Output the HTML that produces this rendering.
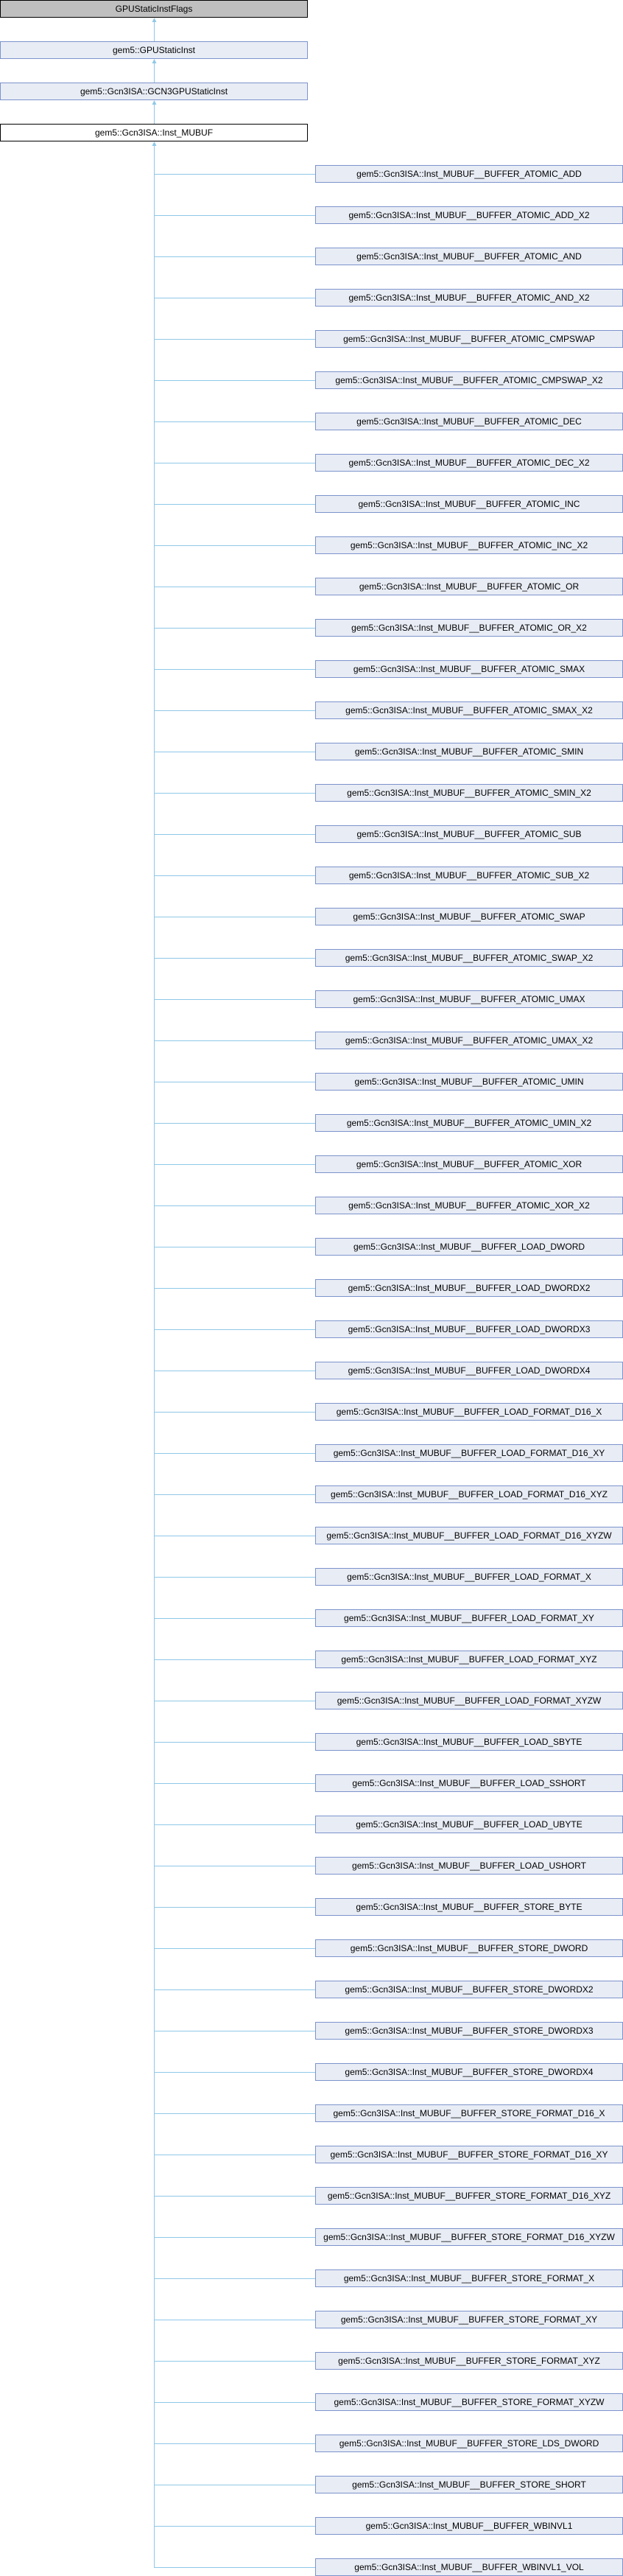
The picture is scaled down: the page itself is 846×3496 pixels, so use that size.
<!DOCTYPE html>
<html><head><meta charset="utf-8"><style>
html,body{margin:0;padding:0;background:#fff}
svg{display:block}
text{font-family:"Liberation Sans",sans-serif;font-size:12px;fill:#000;text-anchor:middle}
.n{fill:#E8ECF5;stroke:#7C93CC;stroke-width:1}
.l{stroke:#8FC8E8;stroke-width:1;fill:none}
.a{fill:#8FC8E8}
</style></head><body>
<svg width="846" height="3496" viewBox="0 0 846 3496" xmlns="http://www.w3.org/2000/svg">
<rect x="0.5" y="0.5" width="417" height="23" fill="#BFBFBF" stroke="#000"/>
<text x="209" y="16">GPUStaticInstFlags</text>
<line class="l" x1="209.5" y1="26" x2="209.5" y2="56"/>
<polygon class="a" points="209.5,24 206.5,30 212.5,30"/>
<rect class="n" x="0.5" y="56.5" width="417" height="23"/>
<text x="209" y="72">gem5::GPUStaticInst</text>
<line class="l" x1="209.5" y1="82" x2="209.5" y2="112"/>
<polygon class="a" points="209.5,80 206.5,86 212.5,86"/>
<rect class="n" x="0.5" y="112.5" width="417" height="23"/>
<text x="209" y="128">gem5::Gcn3ISA::GCN3GPUStaticInst</text>
<line class="l" x1="209.5" y1="138" x2="209.5" y2="168"/>
<polygon class="a" points="209.5,136 206.5,142 212.5,142"/>
<rect x="0.5" y="168.5" width="417" height="23" fill="#fff" stroke="#000"/>
<text x="209" y="184">gem5::Gcn3ISA::Inst_MUBUF</text>
<line class="l" x1="209.5" y1="194" x2="209.5" y2="3484.5"/>
<polygon class="a" points="209.5,192 206.5,198 212.5,198"/>
<g id="c">
<g transform="translate(0,224)"><line class="l" x1="209" y1="12.5" x2="428" y2="12.5"/><rect class="n" x="428.5" y="0.5" width="417" height="23"/><text x="637" y="16">gem5::Gcn3ISA::Inst_MUBUF__BUFFER_ATOMIC_ADD</text></g>
<g transform="translate(0,280)"><line class="l" x1="209" y1="12.5" x2="428" y2="12.5"/><rect class="n" x="428.5" y="0.5" width="417" height="23"/><text x="637" y="16">gem5::Gcn3ISA::Inst_MUBUF__BUFFER_ATOMIC_ADD_X2</text></g>
<g transform="translate(0,336)"><line class="l" x1="209" y1="12.5" x2="428" y2="12.5"/><rect class="n" x="428.5" y="0.5" width="417" height="23"/><text x="637" y="16">gem5::Gcn3ISA::Inst_MUBUF__BUFFER_ATOMIC_AND</text></g>
<g transform="translate(0,392)"><line class="l" x1="209" y1="12.5" x2="428" y2="12.5"/><rect class="n" x="428.5" y="0.5" width="417" height="23"/><text x="637" y="16">gem5::Gcn3ISA::Inst_MUBUF__BUFFER_ATOMIC_AND_X2</text></g>
<g transform="translate(0,448)"><line class="l" x1="209" y1="12.5" x2="428" y2="12.5"/><rect class="n" x="428.5" y="0.5" width="417" height="23"/><text x="637" y="16">gem5::Gcn3ISA::Inst_MUBUF__BUFFER_ATOMIC_CMPSWAP</text></g>
<g transform="translate(0,504)"><line class="l" x1="209" y1="12.5" x2="428" y2="12.5"/><rect class="n" x="428.5" y="0.5" width="417" height="23"/><text x="637" y="16">gem5::Gcn3ISA::Inst_MUBUF__BUFFER_ATOMIC_CMPSWAP_X2</text></g>
<g transform="translate(0,560)"><line class="l" x1="209" y1="12.5" x2="428" y2="12.5"/><rect class="n" x="428.5" y="0.5" width="417" height="23"/><text x="637" y="16">gem5::Gcn3ISA::Inst_MUBUF__BUFFER_ATOMIC_DEC</text></g>
<g transform="translate(0,616)"><line class="l" x1="209" y1="12.5" x2="428" y2="12.5"/><rect class="n" x="428.5" y="0.5" width="417" height="23"/><text x="637" y="16">gem5::Gcn3ISA::Inst_MUBUF__BUFFER_ATOMIC_DEC_X2</text></g>
<g transform="translate(0,672)"><line class="l" x1="209" y1="12.5" x2="428" y2="12.5"/><rect class="n" x="428.5" y="0.5" width="417" height="23"/><text x="637" y="16">gem5::Gcn3ISA::Inst_MUBUF__BUFFER_ATOMIC_INC</text></g>
<g transform="translate(0,728)"><line class="l" x1="209" y1="12.5" x2="428" y2="12.5"/><rect class="n" x="428.5" y="0.5" width="417" height="23"/><text x="637" y="16">gem5::Gcn3ISA::Inst_MUBUF__BUFFER_ATOMIC_INC_X2</text></g>
<g transform="translate(0,784)"><line class="l" x1="209" y1="12.5" x2="428" y2="12.5"/><rect class="n" x="428.5" y="0.5" width="417" height="23"/><text x="637" y="16">gem5::Gcn3ISA::Inst_MUBUF__BUFFER_ATOMIC_OR</text></g>
<g transform="translate(0,840)"><line class="l" x1="209" y1="12.5" x2="428" y2="12.5"/><rect class="n" x="428.5" y="0.5" width="417" height="23"/><text x="637" y="16">gem5::Gcn3ISA::Inst_MUBUF__BUFFER_ATOMIC_OR_X2</text></g>
<g transform="translate(0,896)"><line class="l" x1="209" y1="12.5" x2="428" y2="12.5"/><rect class="n" x="428.5" y="0.5" width="417" height="23"/><text x="637" y="16">gem5::Gcn3ISA::Inst_MUBUF__BUFFER_ATOMIC_SMAX</text></g>
<g transform="translate(0,952)"><line class="l" x1="209" y1="12.5" x2="428" y2="12.5"/><rect class="n" x="428.5" y="0.5" width="417" height="23"/><text x="637" y="16">gem5::Gcn3ISA::Inst_MUBUF__BUFFER_ATOMIC_SMAX_X2</text></g>
<g transform="translate(0,1008)"><line class="l" x1="209" y1="12.5" x2="428" y2="12.5"/><rect class="n" x="428.5" y="0.5" width="417" height="23"/><text x="637" y="16">gem5::Gcn3ISA::Inst_MUBUF__BUFFER_ATOMIC_SMIN</text></g>
<g transform="translate(0,1064)"><line class="l" x1="209" y1="12.5" x2="428" y2="12.5"/><rect class="n" x="428.5" y="0.5" width="417" height="23"/><text x="637" y="16">gem5::Gcn3ISA::Inst_MUBUF__BUFFER_ATOMIC_SMIN_X2</text></g>
<g transform="translate(0,1120)"><line class="l" x1="209" y1="12.5" x2="428" y2="12.5"/><rect class="n" x="428.5" y="0.5" width="417" height="23"/><text x="637" y="16">gem5::Gcn3ISA::Inst_MUBUF__BUFFER_ATOMIC_SUB</text></g>
<g transform="translate(0,1176)"><line class="l" x1="209" y1="12.5" x2="428" y2="12.5"/><rect class="n" x="428.5" y="0.5" width="417" height="23"/><text x="637" y="16">gem5::Gcn3ISA::Inst_MUBUF__BUFFER_ATOMIC_SUB_X2</text></g>
<g transform="translate(0,1232)"><line class="l" x1="209" y1="12.5" x2="428" y2="12.5"/><rect class="n" x="428.5" y="0.5" width="417" height="23"/><text x="637" y="16">gem5::Gcn3ISA::Inst_MUBUF__BUFFER_ATOMIC_SWAP</text></g>
<g transform="translate(0,1288)"><line class="l" x1="209" y1="12.5" x2="428" y2="12.5"/><rect class="n" x="428.5" y="0.5" width="417" height="23"/><text x="637" y="16">gem5::Gcn3ISA::Inst_MUBUF__BUFFER_ATOMIC_SWAP_X2</text></g>
<g transform="translate(0,1344)"><line class="l" x1="209" y1="12.5" x2="428" y2="12.5"/><rect class="n" x="428.5" y="0.5" width="417" height="23"/><text x="637" y="16">gem5::Gcn3ISA::Inst_MUBUF__BUFFER_ATOMIC_UMAX</text></g>
<g transform="translate(0,1400)"><line class="l" x1="209" y1="12.5" x2="428" y2="12.5"/><rect class="n" x="428.5" y="0.5" width="417" height="23"/><text x="637" y="16">gem5::Gcn3ISA::Inst_MUBUF__BUFFER_ATOMIC_UMAX_X2</text></g>
<g transform="translate(0,1456)"><line class="l" x1="209" y1="12.5" x2="428" y2="12.5"/><rect class="n" x="428.5" y="0.5" width="417" height="23"/><text x="637" y="16">gem5::Gcn3ISA::Inst_MUBUF__BUFFER_ATOMIC_UMIN</text></g>
<g transform="translate(0,1512)"><line class="l" x1="209" y1="12.5" x2="428" y2="12.5"/><rect class="n" x="428.5" y="0.5" width="417" height="23"/><text x="637" y="16">gem5::Gcn3ISA::Inst_MUBUF__BUFFER_ATOMIC_UMIN_X2</text></g>
<g transform="translate(0,1568)"><line class="l" x1="209" y1="12.5" x2="428" y2="12.5"/><rect class="n" x="428.5" y="0.5" width="417" height="23"/><text x="637" y="16">gem5::Gcn3ISA::Inst_MUBUF__BUFFER_ATOMIC_XOR</text></g>
<g transform="translate(0,1624)"><line class="l" x1="209" y1="12.5" x2="428" y2="12.5"/><rect class="n" x="428.5" y="0.5" width="417" height="23"/><text x="637" y="16">gem5::Gcn3ISA::Inst_MUBUF__BUFFER_ATOMIC_XOR_X2</text></g>
<g transform="translate(0,1680)"><line class="l" x1="209" y1="12.5" x2="428" y2="12.5"/><rect class="n" x="428.5" y="0.5" width="417" height="23"/><text x="637" y="16">gem5::Gcn3ISA::Inst_MUBUF__BUFFER_LOAD_DWORD</text></g>
<g transform="translate(0,1736)"><line class="l" x1="209" y1="12.5" x2="428" y2="12.5"/><rect class="n" x="428.5" y="0.5" width="417" height="23"/><text x="637" y="16">gem5::Gcn3ISA::Inst_MUBUF__BUFFER_LOAD_DWORDX2</text></g>
<g transform="translate(0,1792)"><line class="l" x1="209" y1="12.5" x2="428" y2="12.5"/><rect class="n" x="428.5" y="0.5" width="417" height="23"/><text x="637" y="16">gem5::Gcn3ISA::Inst_MUBUF__BUFFER_LOAD_DWORDX3</text></g>
<g transform="translate(0,1848)"><line class="l" x1="209" y1="12.5" x2="428" y2="12.5"/><rect class="n" x="428.5" y="0.5" width="417" height="23"/><text x="637" y="16">gem5::Gcn3ISA::Inst_MUBUF__BUFFER_LOAD_DWORDX4</text></g>
<g transform="translate(0,1904)"><line class="l" x1="209" y1="12.5" x2="428" y2="12.5"/><rect class="n" x="428.5" y="0.5" width="417" height="23"/><text x="637" y="16">gem5::Gcn3ISA::Inst_MUBUF__BUFFER_LOAD_FORMAT_D16_X</text></g>
<g transform="translate(0,1960)"><line class="l" x1="209" y1="12.5" x2="428" y2="12.5"/><rect class="n" x="428.5" y="0.5" width="417" height="23"/><text x="637" y="16">gem5::Gcn3ISA::Inst_MUBUF__BUFFER_LOAD_FORMAT_D16_XY</text></g>
<g transform="translate(0,2016)"><line class="l" x1="209" y1="12.5" x2="428" y2="12.5"/><rect class="n" x="428.5" y="0.5" width="417" height="23"/><text x="637" y="16">gem5::Gcn3ISA::Inst_MUBUF__BUFFER_LOAD_FORMAT_D16_XYZ</text></g>
<g transform="translate(0,2072)"><line class="l" x1="209" y1="12.5" x2="428" y2="12.5"/><rect class="n" x="428.5" y="0.5" width="417" height="23"/><text x="637" y="16">gem5::Gcn3ISA::Inst_MUBUF__BUFFER_LOAD_FORMAT_D16_XYZW</text></g>
<g transform="translate(0,2128)"><line class="l" x1="209" y1="12.5" x2="428" y2="12.5"/><rect class="n" x="428.5" y="0.5" width="417" height="23"/><text x="637" y="16">gem5::Gcn3ISA::Inst_MUBUF__BUFFER_LOAD_FORMAT_X</text></g>
<g transform="translate(0,2184)"><line class="l" x1="209" y1="12.5" x2="428" y2="12.5"/><rect class="n" x="428.5" y="0.5" width="417" height="23"/><text x="637" y="16">gem5::Gcn3ISA::Inst_MUBUF__BUFFER_LOAD_FORMAT_XY</text></g>
<g transform="translate(0,2240)"><line class="l" x1="209" y1="12.5" x2="428" y2="12.5"/><rect class="n" x="428.5" y="0.5" width="417" height="23"/><text x="637" y="16">gem5::Gcn3ISA::Inst_MUBUF__BUFFER_LOAD_FORMAT_XYZ</text></g>
<g transform="translate(0,2296)"><line class="l" x1="209" y1="12.5" x2="428" y2="12.5"/><rect class="n" x="428.5" y="0.5" width="417" height="23"/><text x="637" y="16">gem5::Gcn3ISA::Inst_MUBUF__BUFFER_LOAD_FORMAT_XYZW</text></g>
<g transform="translate(0,2352)"><line class="l" x1="209" y1="12.5" x2="428" y2="12.5"/><rect class="n" x="428.5" y="0.5" width="417" height="23"/><text x="637" y="16">gem5::Gcn3ISA::Inst_MUBUF__BUFFER_LOAD_SBYTE</text></g>
<g transform="translate(0,2408)"><line class="l" x1="209" y1="12.5" x2="428" y2="12.5"/><rect class="n" x="428.5" y="0.5" width="417" height="23"/><text x="637" y="16">gem5::Gcn3ISA::Inst_MUBUF__BUFFER_LOAD_SSHORT</text></g>
<g transform="translate(0,2464)"><line class="l" x1="209" y1="12.5" x2="428" y2="12.5"/><rect class="n" x="428.5" y="0.5" width="417" height="23"/><text x="637" y="16">gem5::Gcn3ISA::Inst_MUBUF__BUFFER_LOAD_UBYTE</text></g>
<g transform="translate(0,2520)"><line class="l" x1="209" y1="12.5" x2="428" y2="12.5"/><rect class="n" x="428.5" y="0.5" width="417" height="23"/><text x="637" y="16">gem5::Gcn3ISA::Inst_MUBUF__BUFFER_LOAD_USHORT</text></g>
<g transform="translate(0,2576)"><line class="l" x1="209" y1="12.5" x2="428" y2="12.5"/><rect class="n" x="428.5" y="0.5" width="417" height="23"/><text x="637" y="16">gem5::Gcn3ISA::Inst_MUBUF__BUFFER_STORE_BYTE</text></g>
<g transform="translate(0,2632)"><line class="l" x1="209" y1="12.5" x2="428" y2="12.5"/><rect class="n" x="428.5" y="0.5" width="417" height="23"/><text x="637" y="16">gem5::Gcn3ISA::Inst_MUBUF__BUFFER_STORE_DWORD</text></g>
<g transform="translate(0,2688)"><line class="l" x1="209" y1="12.5" x2="428" y2="12.5"/><rect class="n" x="428.5" y="0.5" width="417" height="23"/><text x="637" y="16">gem5::Gcn3ISA::Inst_MUBUF__BUFFER_STORE_DWORDX2</text></g>
<g transform="translate(0,2744)"><line class="l" x1="209" y1="12.5" x2="428" y2="12.5"/><rect class="n" x="428.5" y="0.5" width="417" height="23"/><text x="637" y="16">gem5::Gcn3ISA::Inst_MUBUF__BUFFER_STORE_DWORDX3</text></g>
<g transform="translate(0,2800)"><line class="l" x1="209" y1="12.5" x2="428" y2="12.5"/><rect class="n" x="428.5" y="0.5" width="417" height="23"/><text x="637" y="16">gem5::Gcn3ISA::Inst_MUBUF__BUFFER_STORE_DWORDX4</text></g>
<g transform="translate(0,2856)"><line class="l" x1="209" y1="12.5" x2="428" y2="12.5"/><rect class="n" x="428.5" y="0.5" width="417" height="23"/><text x="637" y="16">gem5::Gcn3ISA::Inst_MUBUF__BUFFER_STORE_FORMAT_D16_X</text></g>
<g transform="translate(0,2912)"><line class="l" x1="209" y1="12.5" x2="428" y2="12.5"/><rect class="n" x="428.5" y="0.5" width="417" height="23"/><text x="637" y="16">gem5::Gcn3ISA::Inst_MUBUF__BUFFER_STORE_FORMAT_D16_XY</text></g>
<g transform="translate(0,2968)"><line class="l" x1="209" y1="12.5" x2="428" y2="12.5"/><rect class="n" x="428.5" y="0.5" width="417" height="23"/><text x="637" y="16">gem5::Gcn3ISA::Inst_MUBUF__BUFFER_STORE_FORMAT_D16_XYZ</text></g>
<g transform="translate(0,3024)"><line class="l" x1="209" y1="12.5" x2="428" y2="12.5"/><rect class="n" x="428.5" y="0.5" width="417" height="23"/><text x="637" y="16">gem5::Gcn3ISA::Inst_MUBUF__BUFFER_STORE_FORMAT_D16_XYZW</text></g>
<g transform="translate(0,3080)"><line class="l" x1="209" y1="12.5" x2="428" y2="12.5"/><rect class="n" x="428.5" y="0.5" width="417" height="23"/><text x="637" y="16">gem5::Gcn3ISA::Inst_MUBUF__BUFFER_STORE_FORMAT_X</text></g>
<g transform="translate(0,3136)"><line class="l" x1="209" y1="12.5" x2="428" y2="12.5"/><rect class="n" x="428.5" y="0.5" width="417" height="23"/><text x="637" y="16">gem5::Gcn3ISA::Inst_MUBUF__BUFFER_STORE_FORMAT_XY</text></g>
<g transform="translate(0,3192)"><line class="l" x1="209" y1="12.5" x2="428" y2="12.5"/><rect class="n" x="428.5" y="0.5" width="417" height="23"/><text x="637" y="16">gem5::Gcn3ISA::Inst_MUBUF__BUFFER_STORE_FORMAT_XYZ</text></g>
<g transform="translate(0,3248)"><line class="l" x1="209" y1="12.5" x2="428" y2="12.5"/><rect class="n" x="428.5" y="0.5" width="417" height="23"/><text x="637" y="16">gem5::Gcn3ISA::Inst_MUBUF__BUFFER_STORE_FORMAT_XYZW</text></g>
<g transform="translate(0,3304)"><line class="l" x1="209" y1="12.5" x2="428" y2="12.5"/><rect class="n" x="428.5" y="0.5" width="417" height="23"/><text x="637" y="16">gem5::Gcn3ISA::Inst_MUBUF__BUFFER_STORE_LDS_DWORD</text></g>
<g transform="translate(0,3360)"><line class="l" x1="209" y1="12.5" x2="428" y2="12.5"/><rect class="n" x="428.5" y="0.5" width="417" height="23"/><text x="637" y="16">gem5::Gcn3ISA::Inst_MUBUF__BUFFER_STORE_SHORT</text></g>
<g transform="translate(0,3416)"><line class="l" x1="209" y1="12.5" x2="428" y2="12.5"/><rect class="n" x="428.5" y="0.5" width="417" height="23"/><text x="637" y="16">gem5::Gcn3ISA::Inst_MUBUF__BUFFER_WBINVL1</text></g>
<g transform="translate(0,3472)"><line class="l" x1="209" y1="12.5" x2="428" y2="12.5"/><rect class="n" x="428.5" y="0.5" width="417" height="23"/><text x="637" y="16">gem5::Gcn3ISA::Inst_MUBUF__BUFFER_WBINVL1_VOL</text></g>
</g>
</svg>
</body></html>
